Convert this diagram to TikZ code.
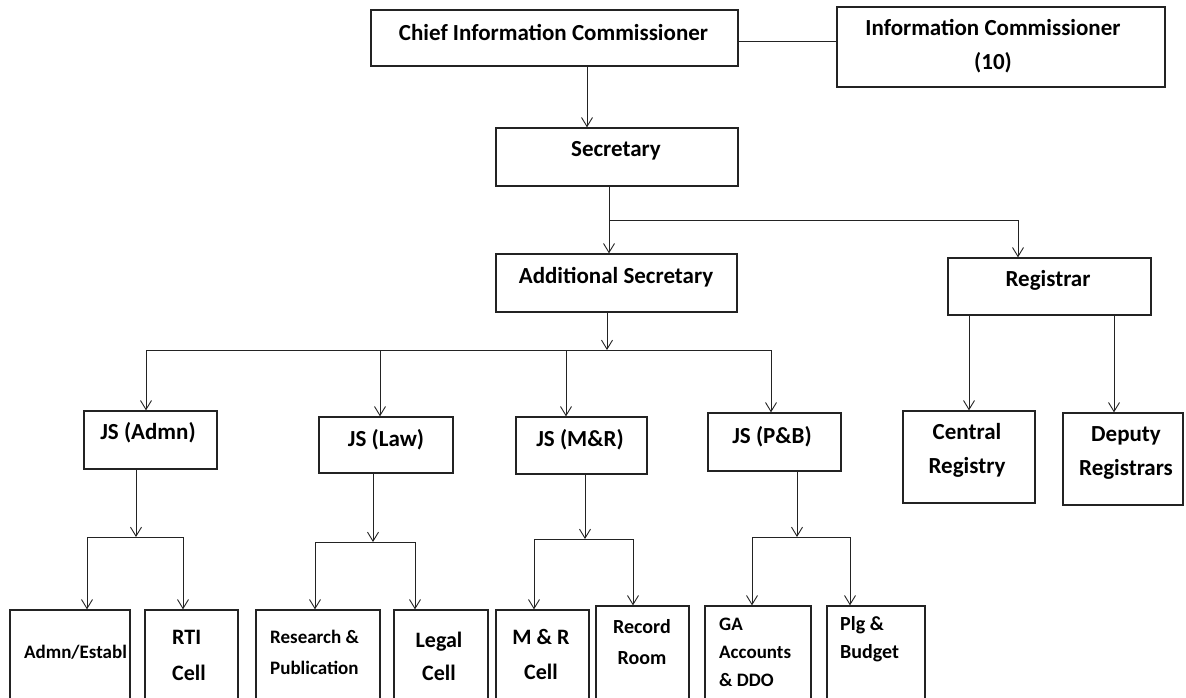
\documentclass[tikz,border=0pt]{standalone}
\usepackage{fontspec}
\setmainfont{Carlito}
\usetikzlibrary{arrows.meta}
\definecolor{ln}{RGB}{35,35,35}
\begin{document}
\begin{tikzpicture}[x=1pt,y=-1pt,
  box/.style 2 args={draw=ln,line width=1.3pt,minimum width=#1,minimum height=#2,inner sep=0pt},
  txt/.style 2 args={font=\bfseries\fontsize{#1}{#2}\selectfont,inner sep=0pt,text=black},
  wire/.style={draw=ln,line width=0.9pt},
  arr/.style={draw=ln,line width=0.9pt,-{Straight Barb[length=9pt,width=11pt]}}]
\useasboundingbox (0,0) rectangle (1186,698);
\fill[white] (0,0) rectangle (1186,698);
% ---- boxes and texts ----
\node[box={367}{56}] (cic) at (554.5,38) {};
\node[txt={23}{27}] (cict) at (553.5,32) {Chief Information Commissioner};
\node[box={328}{80}] (ic) at (1001,47) {};
\node[txt={23}{34},align=center] (ict) at (993,46) {Information Commissioner\\(10)};
\node[box={242}{58}] (sec) at (617,157) {};
\node[txt={23}{27}] (sect) at (616,151) {Secretary};
\node[box={241}{58}] (as) at (616.5,283) {};
\node[txt={23}{27}] (ast) at (616,277) {Additional Secretary};
\node[box={203}{57}] (reg) at (1049.5,286.5) {};
\node[txt={23}{27}] (regt) at (1048,280) {Registrar};
\node[box={133}{58}] (jsa) at (150.5,440) {};
\node[txt={23}{27}] (jsat) at (148,433) {JS (Admn)};
\node[box={134}{56}] (jsl) at (386,445) {};
\node[txt={23}{27}] (jslt) at (386,440) {JS (Law)};
\node[box={131}{57}] (jsm) at (581.5,445.5) {};
\node[txt={23}{27}] (jsmt) at (580,440) {JS (M\&R)};
\node[box={133}{58}] (jsp) at (774.5,442) {};
\node[txt={23}{27}] (jspt) at (772,437) {JS (P\&B)};
\node[box={132}{92}] (cr) at (969,457) {};
\node[txt={23}{34},align=center] (crt) at (967,450) {Central\\Registry};
\node[box={120}{92}] (dr) at (1123,459) {};
\node[txt={23}{34},align=center] (drt) at (1126,453) {Deputy\\Registrars};
% bottom row (boxes run past the lower edge)
\node[box={120}{92}] (b1) at (70,656) {};
\node[txt={19}{23}] (t1) at (75.5,652) {Admn/Establ};
\node[box={93}{92}] (b2) at (191.5,656) {};
\node[txt={22}{36},align=left,anchor=west] (t2) at (172,655) {RTI\\Cell};
\node[box={124}{92}] (b3) at (318,656) {};
\node[txt={19}{31},align=left,anchor=west] (t3) at (270,652.5) {Research \&\\Publication};
\node[box={94}{92}] (b4) at (441,656) {};
\node[txt={22}{33},align=center] (t4) at (439,656.5) {Legal\\Cell};
\node[box={93}{92}] (b5) at (542.5,656) {};
\node[txt={22}{35},align=center] (t5) at (541,654.5) {M \& R\\Cell};
\node[box={93}{96}] (b6) at (642.5,654) {};
\node[txt={20}{31},align=center] (t6) at (642,642.5) {Record\\Room};
\node[box={106}{96}] (b7) at (758,654) {};
\node[txt={19}{28},align=left,anchor=west] (t7) at (719,652) {GA\\Accounts\\\& DDO};
\node[box={98}{96}] (b8) at (876,654) {};
\node[txt={20}{28},align=left,anchor=west] (t8) at (840,639) {Plg \&\\Budget};
% ---- connector coordinates ----
\coordinate (k1) at (0,41);
\coordinate (x1) at (587,0);
\coordinate (j1) at (609,220);
\coordinate (j2) at (1018,220);
\coordinate (j3) at (607,350);
\coordinate (ba) at (146,350);
\coordinate (bl) at (380,350);
\coordinate (bm) at (566,350);
\coordinate (bp) at (771,350);
\coordinate (ja) at (136,537);
\coordinate (ja1) at (87,537);
\coordinate (ja2) at (183,537);
\coordinate (jl) at (373,542);
\coordinate (jl1) at (315,542);
\coordinate (jl2) at (415,542);
\coordinate (jm) at (585,539);
\coordinate (jm1) at (534,539);
\coordinate (jm2) at (633,539);
\coordinate (jp) at (797,537);
\coordinate (jp1) at (752,537);
\coordinate (jp2) at (850,537);
\coordinate (r1) at (969,0);
\coordinate (r2) at (1114,0);
% ---- connectors ----
\draw[wire] (cic.east |- k1) -- (ic.west |- k1);
\draw[arr] (cic.south -| x1) -- (sec.north -| x1);
\draw[wire] (sec.south -| j1) -- (j1) -- (j2);
\draw[arr] (j1) -- (as.north -| j1);
\draw[arr] (j2) -- (reg.north -| j2);
\draw[arr] (as.south -| j3) -- (j3);
\draw[wire] (ba) -- (bp);
\draw[arr] (ba) -- (jsa.north -| ba);
\draw[arr] (bl) -- (jsl.north -| bl);
\draw[arr] (bm) -- (jsm.north -| bm);
\draw[arr] (bp) -- (jsp.north -| bp);
\draw[arr] (jsa.south -| ja) -- (ja);
\draw[wire] (ja1) -- (ja2);
\draw[arr] (ja1) -- (b1.north -| ja1);
\draw[arr] (ja2) -- (b2.north -| ja2);
\draw[arr] (jsl.south -| jl) -- (jl);
\draw[wire] (jl1) -- (jl2);
\draw[arr] (jl1) -- (b3.north -| jl1);
\draw[arr] (jl2) -- (b4.north -| jl2);
\draw[arr] (jsm.south -| jm) -- (jm);
\draw[wire] (jm1) -- (jm2);
\draw[arr] (jm1) -- (b5.north -| jm1);
\draw[arr] (jm2) -- (b6.north -| jm2);
\draw[arr] (jsp.south -| jp) -- (jp);
\draw[wire] (jp1) -- (jp2);
\draw[arr] (jp1) -- (b7.north -| jp1);
\draw[arr] (jp2) -- (b8.north -| jp2);
\draw[arr] (reg.south -| r1) -- (cr.north -| r1);
\draw[arr] (reg.south -| r2) -- (dr.north -| r2);
\end{tikzpicture}
\end{document}
